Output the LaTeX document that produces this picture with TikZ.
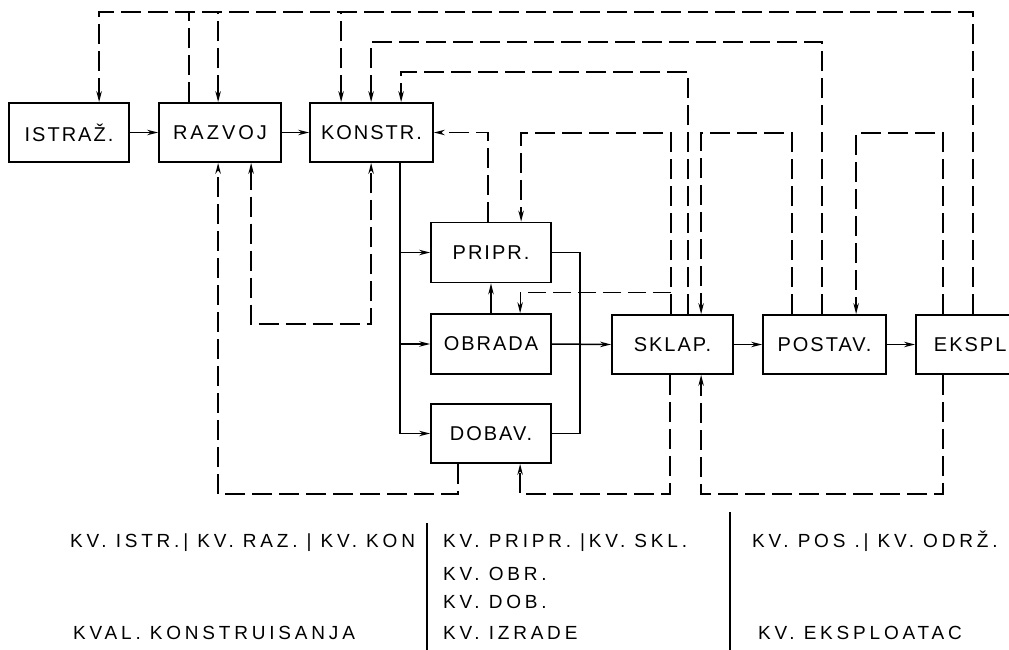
\documentclass[tikz,border=0pt]{standalone}
\usepackage{fontspec}
\setmainfont{Liberation Sans}[LetterSpace=20]
\newfontfamily\boxfont{Liberation Sans}[LetterSpace=10]
\newfontfamily\wideboxfont{Liberation Sans}[LetterSpace=15]
\usetikzlibrary{arrows.meta}
\begin{document}
\begin{tikzpicture}[x=1pt,y=-1pt,
  box/.style={draw, line width=1.8pt, minimum height=59pt, inner sep=0pt, font=\boxfont\fontsize{20}{22}\selectfont},
  main/.style={line width=1.5pt},
  fb/.style={line width=1.4pt, dash pattern=on 20pt off 7pt},
  fbthin/.style={line width=0.9pt, dash pattern=on 18pt off 7pt},
  >={Stealth[length=11pt,width=5.5pt]},
  lab/.style={anchor=base west, inner sep=0pt, font=\fontsize{19}{21}\selectfont},
  sep/.style={line width=1.2pt}
]
\useasboundingbox (0,0) rectangle (1009,650);
\clip (0,0) rectangle (1009,650);
% boxes
\node[box, minimum width=120pt] (istr)   at (69,132.5)   {ISTRAŽ.};
\node[box, minimum width=122pt, font=\wideboxfont\fontsize{20}{22}\selectfont] (razv) at (220,132.5) {RAZVOJ};
\node[box, minimum width=123pt] (konstr) at (371.5,132.5){KONSTR.};
\node[box, minimum width=120pt, minimum height=60pt] (pripr)  at (491,252.5) {PRIPR.};
\node[box, minimum width=120pt, minimum height=60pt] (obrada) at (491,344)   {OBRADA};
\node[box, minimum width=120pt] (dobav)  at (491,433.5) {DOBAV.};
\node[box, minimum width=121pt] (sklap)  at (672.5,344.5) {SKLAP.};
\node[box, minimum width=123pt] (postav) at (824.5,344.5) {POSTAV.};
\node[box, anchor=west, minimum width=150pt] (ekspl) at (915,344.5) {\makebox[114pt][l]{EKSPL}};
% main flow
\draw[main,->] (istr.east) -- (razv.west);
\draw[main,->] (razv.east) -- (konstr.west);
\draw[main,->] ([xshift=91pt]konstr.south west) |- (dobav.west);
\draw[main,->] ([xshift=-30pt]pripr.west) -- (pripr.west);
\draw[main,->] ([xshift=-30pt]obrada.west) -- (obrada.west);
\draw[main] (pripr.east) -- ++(28,0) |- (dobav.east);
\draw[main,->] (obrada.east) -- (sklap.west);
\draw[main,->] (obrada.north) -- (pripr.south);
\draw[main,->] (sklap.east) -- (postav.west);
\draw[main,->] (postav.east) -- (ekspl.west);
% feedback, top
\draw[fb,->] ([xshift=58pt]ekspl.north west) -- ++(0,-302) -| ([xshift=91pt]istr.north west);
\draw[fb] ([xshift=31pt]razv.north west) -- ++(0,-90);
\draw[fb,<-] ([xshift=60pt]razv.north west) -- ++(0,-90);
\draw[fb,<-] ([xshift=32pt]konstr.north west) -- ++(0,-90);
\draw[fb,->] ([xshift=60pt]postav.north west) -- ++(0,-272) -| ([xshift=62pt]konstr.north west);
\draw[fb,->] ([xshift=77pt]sklap.north west) -- ++(0,-242) -| ([xshift=92pt]konstr.north west);
\draw[fb,->] ([xshift=58pt]pripr.north west) |- (konstr.east);
\draw[fb,->] ([xshift=60pt]sklap.north west) -- ++(0,-181) -| ([xshift=91pt]pripr.north west);
\draw[fbthin,->] ([xshift=60pt,yshift=22pt]sklap.north west) -| ([xshift=90pt]obrada.north west);
\draw[fb,->] ([xshift=30pt]postav.north west) -- ++(0,-181) -| ([xshift=90pt]sklap.north west);
\draw[fb,->] ([xshift=28pt]ekspl.north west) -- ++(0,-181) -| ([xshift=94pt]postav.north west);
% feedback, bottom
\draw[fb,<->] ([xshift=93pt]razv.south west) -- ++(0,161) -| ([xshift=62pt]konstr.south west);
\draw[fb,->] ([xshift=28pt]dobav.south west) -- ++(0,30) -| ([xshift=60pt]razv.south west);
\draw[fb,->] ([xshift=59pt]sklap.south west) -- ++(0,119) -| ([xshift=90pt]dobav.south west);
\draw[fb,->] ([xshift=28pt]ekspl.south west) -- ++(0,119) -| ([xshift=90pt]sklap.south west);
% legend
\draw[sep] (427,523) -- (427,650);
\draw[sep] (730,512) -- (730,650);
\node[lab] (l1) at (70,547)  {KV. ISTR.| KV. RAZ. | KV. KON};
\node[lab] (l2) at (443,547) {KV. PRIPR. |KV. SKL.};
\node[lab] (l3) at (752,547) {KV. POS .| KV. ODRŽ.};
\node[lab] (l4) at (443,580) {KV. OBR.};
\node[lab] (l5) at (443,608) {KV. DOB.};
\node[lab] (l6) at (73,639)  {KVAL. KONSTRUISANJA};
\node[lab] (l7) at (443,639) {KV. IZRADE};
\node[lab] (l8) at (758,639) {KV. EKSPLOATAC};
\end{tikzpicture}
\end{document}
